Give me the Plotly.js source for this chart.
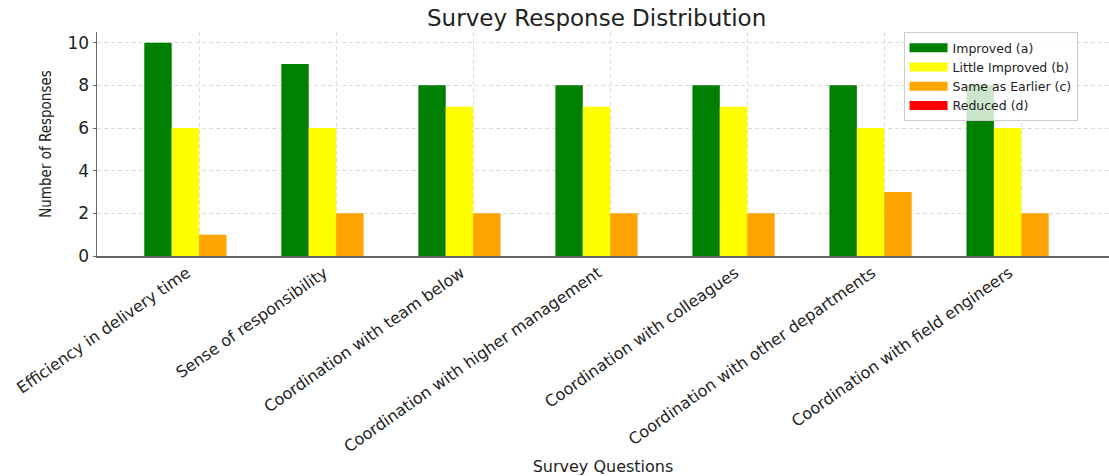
<!DOCTYPE html>
<html>
<head>
<meta charset="utf-8">
<script src="https://cdn.plot.ly/plotly-3.0.1.min.js"></script>
<style>html,body{margin:0;padding:0;background:#fff;}#chart{width:1109px;height:476px;}</style>
</head>
<body>
<div id="chart"></div>
<script>
const questions = [
  "Efficiency in delivery time",
  "Sense of responsibility",
  "Coordination with team below",
  "Coordination with higher management",
  "Coordination with colleagues",
  "Coordination with other departments",
  "Coordination with field engineers"
];
const improved = [10, 9, 8, 8, 8, 8, 8];
const littleImproved = [6, 6, 7, 7, 7, 6, 6];
const sameAsEarlier = [1, 2, 2, 2, 2, 3, 2];
const reduced = [0, 0, 0, 0, 0, 0, 0];
const seriesNames = ["Improved (a)", "Little Improved (b)", "Same as Earlier (c)", "Reduced (d)"];
const seriesColors = ["#008000", "#ffff00", "#ffa500", "#ff0000"];
const yTicks = [0, 2, 4, 6, 8, 10];

const values = [improved, littleImproved, sameAsEarlier, reduced];
const traces = values.map((v, i) => ({
  type: "bar",
  x: questions,
  y: v,
  name: seriesNames[i],
  showlegend: false,
  marker: {color: seriesColors[i], line: {width: 0}}
}));
// legend-only entries drawn as wide rectangles (like the reference legend patches)
const legendTraces = seriesNames.map((n, i) => ({
  type: "scatter", mode: "lines",
  x: [null], y: [null],
  name: n,
  line: {color: seriesColors[i], width: 9},
  hoverinfo: "skip"
}));

const font = "DejaVu Sans, sans-serif";
const layout = {
  width: 1109, height: 476,
  margin: {l: 97, r: 0, t: 32, b: 220},
  paper_bgcolor: "#fff", plot_bgcolor: "#fff",
  barmode: "group", bargap: 0.2, bargroupgap: 0,
  title: {text: "Survey Response Distribution", font: {family: font, size: 23, color: "#222"}, x: 0.538, xanchor: "center", y: 0.962, yanchor: "middle"},
  xaxis: {
    type: "category",
    range: [-0.745, 6.64],
    tickangle: -35,
    ticklabelshift: -12,
    tickfont: {family: font, size: 16, color: "#222"},
    showgrid: true, gridcolor: "#dcdcdc", griddash: "4px,3px", gridwidth: 1,
    showline: true, linecolor: "#666", linewidth: 1.5,
    ticks: "",
    title: {text: "Survey Questions", font: {family: font, size: 16, color: "#222"}, standoff: 5}
  },
  yaxis: {
    range: [0, 10.5],
    tickvals: yTicks,
    tickfont: {family: font, size: 17, color: "#222"},
    showgrid: true, gridcolor: "#dcdcdc", griddash: "4px,3px", gridwidth: 1,
    zeroline: false,
    showline: true, linecolor: "#666", linewidth: 1.5,
    ticks: "outside", ticklen: 3, tickcolor: "#666",
    title: {text: "Number of Responses", font: {family: "Liberation Sans Narrow, DejaVu Sans Condensed, sans-serif", size: 15, color: "#222"}, standoff: 12}
  },
  legend: {
    x: 0.797, xanchor: "left", y: 1.0, yanchor: "top",
    bgcolor: "rgba(255,255,255,0.8)", bordercolor: "#ccc", borderwidth: 1,
    font: {family: font, size: 12.5, color: "#222"},
    tracegroupgap: 0, itemwidth: 38
  },
  showlegend: true
};
Plotly.newPlot("chart", traces.concat(legendTraces), layout, {displayModeBar: false, staticPlot: true});
</script>
</body>
</html>
